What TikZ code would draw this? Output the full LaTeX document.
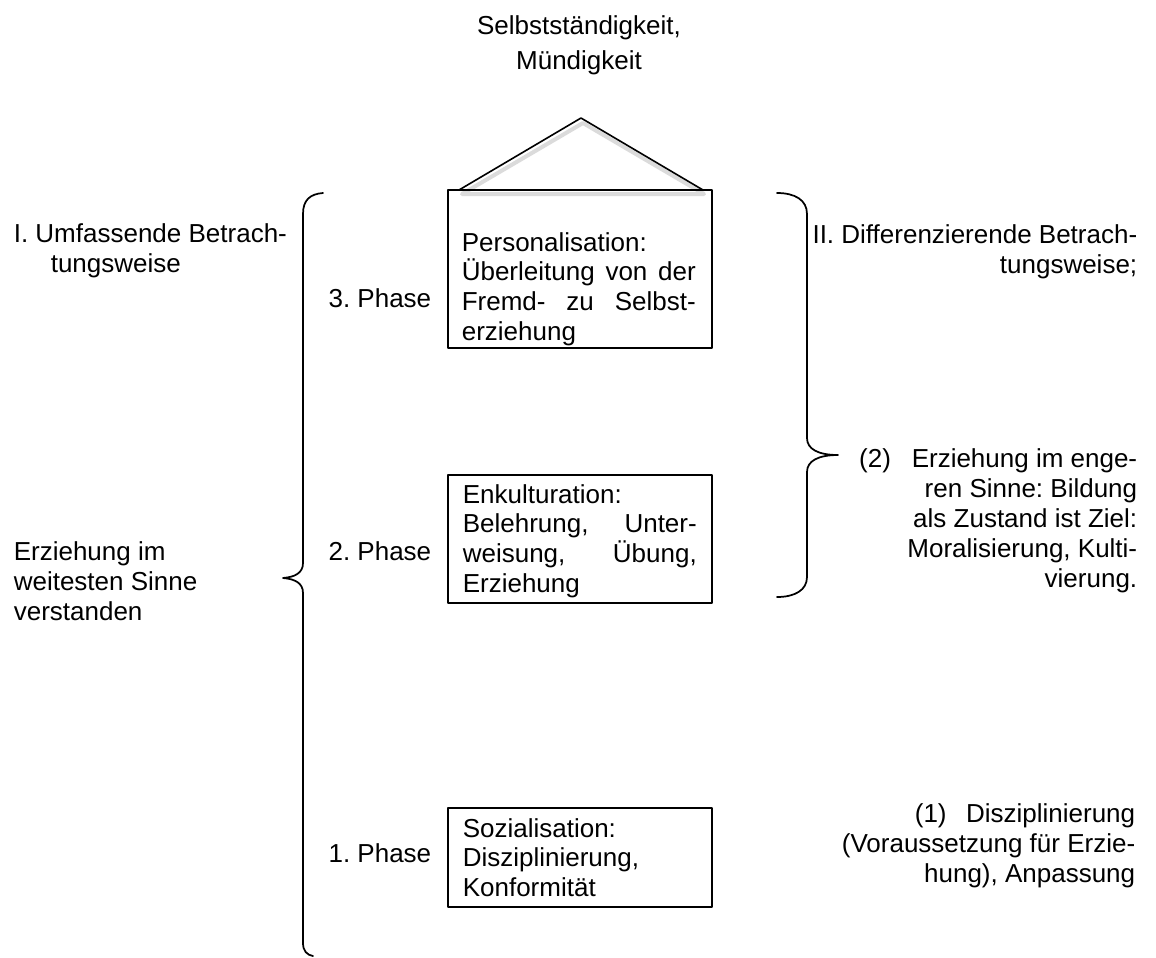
\documentclass[tikz,border=0pt]{standalone}
\usepackage{fontspec}
\setmainfont{Liberation Sans}
\usetikzlibrary{positioning}
\frenchspacing
% Blocksatzzeile mit fester Breite
\newcommand{\jline}[1]{\leavevmode\hbox to 175.5pt{#1}}
\tikzset{
  every picture/.style={line width=1.2pt, line join=round, line cap=round},
  every node/.style={font=\fontsize{19.5}{22.5}\selectfont, inner sep=0pt},
  % Linien
  boxline/.style={line width=1.2pt},
  bracepath/.style={line width=1.3pt},
  shadowline/.style={black!14, line width=3pt},
  % Beschriftungen (Anker: Grundlinie der letzten Zeile)
  phase/.style={anchor=base east},
  lefttxt/.style={anchor=base west, align=left},
  righttxt/.style={anchor=base east, align=right},
  boxtxt/.style={anchor=base west, text width=175.5pt, align=left,
    font=\fontsize{19.5}{22.3}\selectfont},
}
\begin{document}
\begin{tikzpicture}[x=0.75pt, y=-0.75pt]
  \useasboundingbox (0,0) rectangle (1156,957);
  % ---------- Ziel und Dach ----------
  \node[align=center, anchor=base, font=\fontsize{19.5}{26}\selectfont] (ziel) at (579,69) {Selbstständigkeit,\\Mündigkeit};
  \draw[shadowline] (462,194) -- (583,123) -- (704,194) -- cycle;
  \draw (459,190) -- (581,118) -- (703,190) -- cycle;
  % ---------- Phasen ----------
  \draw[boxline] (448,190) rectangle (712,348);
  \node[boxtxt] (p3) at (461,251) {Personalisation:\\\jline{Überleitung\hfill von\hfill der}\\\jline{Fremd-\hfill zu\hfill Selbst-}\\erziehung};
  \draw[boxline] (448,475) rectangle (712,603);
  \node[boxtxt] (p2) at (462,503) {Enkulturation:\\\jline{Belehrung,\hfill Unter-}\\\jline{weisung,\hfill Übung,}\\Erziehung};
  \draw[boxline] (448,808) rectangle (712,907);
  \node[boxtxt] (p1) at (462,837) {Sozialisation:\\Disziplinierung,\\Konformität};
  \node[phase] (ph3) at (432,307) {3. Phase};
  \node[phase] (ph2) at (432,560) {2. Phase};
  \node[phase] (ph1) at (432,862) {1. Phase};
  % ---------- Klammern ----------
  \draw[bracepath] (323,193) .. controls (310,194) and (303,200) .. (303,214) -- (303,563)
    .. controls (303,573) and (295,577) .. (283,578) .. controls (295,579) and (303,583) .. (303,593)
    -- (303,943) .. controls (303,951) and (307,955) .. (313,956);
  \draw[bracepath] (777,193) .. controls (795,193) and (807,200) .. (807,214) -- (807,438)
    .. controls (807,449) and (818,455) .. (838,455) .. controls (818,455) and (807,461) .. (807,472)
    -- (807,577) .. controls (807,590) and (795,597) .. (777,597);
  % ---------- links ----------
  \node[lefttxt] (umf) at (13,272) {I. Umfassende Betrach-\\\hspace*{27.75pt}tungsweise};
  \node[lefttxt] (weit) at (13,620) {Erziehung im\\weitesten Sinne\\verstanden};
  % ---------- rechts ----------
  \node[righttxt] (diff) at (1138,273) {II. Differenzierende Betrach-\\tungsweise;};
  \node[righttxt] (eng) at (1138,587) {(2)\hspace{0.8em}Erziehung im enge-\\ren Sinne: Bildung\\als Zustand ist Ziel:\\Moralisierung, Kulti-\\vierung.};
  \node[righttxt] (disz) at (1136,882) {(1)\hspace{0.75em}Disziplinierung\\(Voraussetzung für Erzie-\\hung), Anpassung};
\end{tikzpicture}
\end{document}
